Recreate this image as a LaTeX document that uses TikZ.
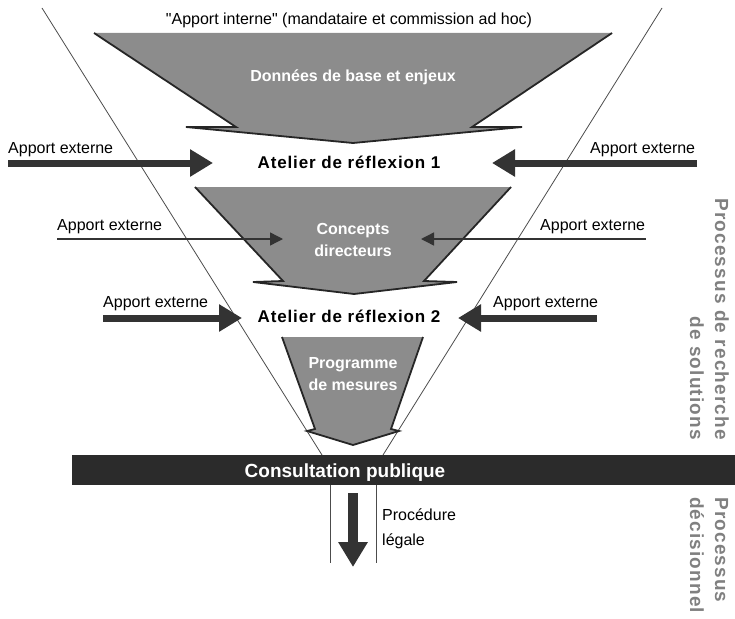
\documentclass[tikz,border=0pt]{standalone}
\usepackage{fontspec}
\setmainfont{Liberation Sans}[Ligatures=TeXOff]
\usetikzlibrary{arrows.meta}
\definecolor{blockgray}{gray}{0.55}
\definecolor{bargray}{gray}{0.17}
\definecolor{sidegray}{gray}{0.5}
\tikzset{
	funnel/.style={line width=0.8pt, color=black!70},
	blockedge/.style={line width=1.8pt, color=black!85, line join=miter},
	bigarrow/.style={line width=7pt, color=black!80, -{Triangle[length=23pt,width=26pt]}},
	thinarrow/.style={line width=1.4pt, color=black!80, -{Triangle[length=13pt,width=13pt]}},
	apport/.style={font=\fontsize{16}{19}\selectfont, anchor=base west, inner sep=0pt},
	atelier/.style={font=\fontsize{17}{20}\selectfont\bfseries\addfontfeatures{LetterSpace=5}, anchor=base, inner sep=0pt},
	blocktext/.style={font=\fontsize{16}{22}\selectfont\bfseries, text=white, align=center, inner sep=0pt},
	side/.style={font=\fontsize{19}{22}\selectfont\bfseries\addfontfeatures{LetterSpace=6}, text=sidegray, rotate=-90, inner sep=0pt},
}

\begin{document}
\begin{tikzpicture}[x=1pt, y=-1pt]
		%%%%% START %%%%%
		\useasboundingbox (0,0) rectangle (735,618);
		
		% funnel
		\draw[funnel] (42,8) -- (322,455);
		\draw[funnel] (662,8) -- (383,455);
		\draw[funnel] (330,485) -- (330,563);
		\draw[funnel] (376,485) -- (376,563);
		
		% blocks
		\fill[blockgray] (94,33) -- (612,33) -- (472,127) -- (522,127) -- (353,143) -- (186,127) -- (236,127) -- cycle;
		\draw[blockedge] (612,33) -- (472,127) -- (522,127) -- (353,143) -- (186,127) -- (236,127) -- (94,33);
		
		\fill[blockgray] (195,187) -- (511,187) -- (424,281) -- (457,282) -- (354,294) -- (253,282) -- (283,281) -- cycle;
		\draw[blockedge] (511,187) -- (424,281) -- (457,282) -- (354,294) -- (253,282) -- (283,281) -- (195,187);
		
		\fill[blockgray] (282,337) -- (423,337) -- (391,429) -- (399,431) -- (353,445) -- (307,431) -- (315,429) -- cycle;
		\draw[blockedge] (423,337) -- (391,429) -- (399,431) -- (353,445) -- (307,431) -- (315,429) -- (282,337);
		
		\node[blocktext] (donnees) at (353,77) {Données de base et enjeux};
		\node[blocktext] (concepts) at (353,240) {Concepts\\directeurs};
		\node[blocktext] (programme) at (353,374) {Programme\\de mesures};
		
		% labels
		\node[apport, anchor=base] (interne) at (349,25) {"Apport interne" (mandataire et commission ad hoc)};
		\node[apport] (ext1l) at (8,153) {Apport externe};
		\node[apport] (ext1r) at (590,153) {Apport externe};
		\node[apport] (ext2l) at (57,230) {Apport externe};
		\node[apport] (ext2r) at (540,230) {Apport externe};
		\node[apport] (ext3l) at (103,307) {Apport externe};
		\node[apport] (ext3r) at (493,307) {Apport externe};
		
		\node[atelier] (atelier1) at (349,168) {Atelier de réflexion 1};
		\node[atelier] (atelier2) at (349,322) {Atelier de réflexion 2};
		
		% arrows
		\coordinate (s1l) at (8,163);   \coordinate (e1l) at (213,163);
		\coordinate (s1r) at (697,163); \coordinate (e1r) at (492,163);
		\coordinate (s2l) at (57,239);  \coordinate (e2l) at (283,239);
		\coordinate (s2r) at (646,239); \coordinate (e2r) at (421,239);
		\coordinate (s3l) at (103,318); \coordinate (e3l) at (242,318);
		\coordinate (s3r) at (597,318); \coordinate (e3r) at (458,318);
		\draw[bigarrow] (s1l) -- (e1l);
		\draw[bigarrow] (s1r) -- (e1r);
		\draw[thinarrow] (s2l) -- (e2l);
		\draw[thinarrow] (s2r) -- (e2r);
		\draw[bigarrow] (s3l) -- (e3l);
		\draw[bigarrow] (s3r) -- (e3r);
		
		% consultation
		\fill[bargray] (72,455) rectangle (735,485);
		\node[font=\fontsize{19}{22}\selectfont\bfseries, text=white, anchor=base, inner sep=0pt] (consult) at (345,477) {Consultation publique};
		
		\coordinate (down1) at (353,493); \coordinate (down2) at (353,567);
		\draw[line width=9.5pt, color=black!80, -{Triangle[length=25pt,width=28pt]}] (down1) -- (down2);
		\node[apport] (proc) at (382,520) {Procédure};
		\node[apport] (legale) at (382,545) {légale};
		
		% side titles
		\node[side, anchor=base east] (rech1) at (715,440) {Processus de recherche};
		\node[side, anchor=base east] (rech2) at (690,440) {de solutions};
		\node[side, anchor=base west] (dec1) at (715,497) {Processus};
		\node[side, anchor=base west] (dec2) at (690,497) {décisionnel};
		
		%%%%% END %%%%%
\end{tikzpicture}
\end{document}
